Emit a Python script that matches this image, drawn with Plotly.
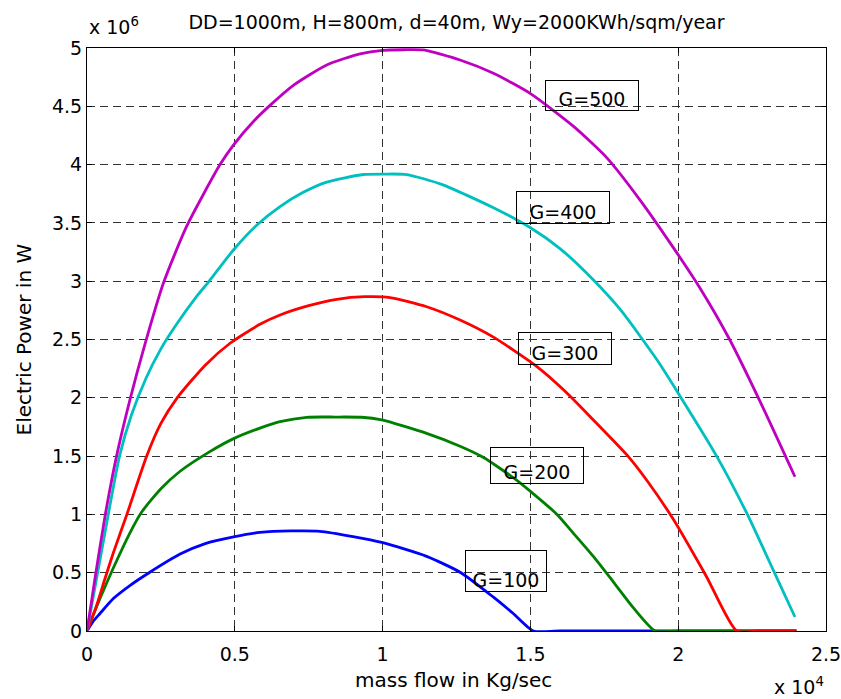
import plotly.graph_objects as go

# mass flow in units of 1e4 kg/s, electric power in units of 1e6 W
x_g100 = [0, 0.02, 0.044, 0.09, 0.145, 0.21, 0.315, 0.40, 0.496, 0.585, 0.69, 0.788, 0.90, 0.997, 1.149, 1.265, 1.375, 1.442, 1.51, 1.60, 2.40]
y_g100 = [0, 0.08, 0.15, 0.28, 0.39, 0.50, 0.66, 0.75, 0.807, 0.845, 0.858, 0.855, 0.81, 0.76, 0.64, 0.50, 0.29, 0.15, 0, 0, 0]

x_g200 = [0, 0.02, 0.044, 0.089, 0.145, 0.185, 0.25, 0.315, 0.41, 0.496, 0.585, 0.653, 0.743, 0.84, 0.929, 0.997, 1.149, 1.262, 1.34, 1.45, 1.59, 1.645, 1.713, 1.781, 1.848, 1.922, 2.0, 2.40]
y_g200 = [0, 0.13, 0.28, 0.54, 0.84, 1.02, 1.22, 1.37, 1.53, 1.65, 1.74, 1.795, 1.833, 1.835, 1.833, 1.81, 1.695, 1.585, 1.49, 1.30, 1.0, 0.84, 0.64, 0.42, 0.2, 0, 0, 0]

x_g300 = [0, 0.03, 0.061, 0.089, 0.135, 0.202, 0.25, 0.305, 0.40, 0.485, 0.585, 0.653, 0.75, 0.845, 0.94, 1.025, 1.149, 1.262, 1.375, 1.521, 1.62, 1.713, 1.83, 1.893, 1.983, 2.095, 2.198, 2.27, 2.40]
y_g300 = [0, 0.2, 0.45, 0.67, 1.0, 1.5, 1.78, 2.0, 2.28, 2.47, 2.63, 2.71, 2.79, 2.845, 2.867, 2.86, 2.781, 2.667, 2.52, 2.27, 2.05, 1.81, 1.5, 1.295, 0.96, 0.47, 0, 0, 0]

x_g400 = [0, 0.018, 0.036, 0.072, 0.11, 0.15, 0.2, 0.25, 0.3, 0.371, 0.41, 0.496, 0.574, 0.653, 0.73, 0.811, 0.935, 1.01, 1.082, 1.2, 1.375, 1.499, 1.60, 1.69, 1.803, 1.927, 2.0, 2.13, 2.232, 2.322, 2.395]
y_g400 = [0, 0.25, 0.5, 1.0, 1.5, 1.85, 2.17, 2.42, 2.62, 2.87, 2.99, 3.27, 3.48, 3.64, 3.76, 3.85, 3.915, 3.919, 3.915, 3.83, 3.63, 3.46, 3.28, 3.07, 2.76, 2.33, 2.04, 1.5, 1.01, 0.52, 0.12]

x_g500 = [0, 0.015, 0.03, 0.062, 0.1, 0.145, 0.195, 0.258, 0.337, 0.45, 0.496, 0.563, 0.62, 0.698, 0.811, 0.924, 1.0, 1.07, 1.138, 1.262, 1.375, 1.499, 1.645, 1.758, 1.871, 1.983, 2.074, 2.174, 2.288, 2.395]
y_g500 = [0, 0.25, 0.5, 1.0, 1.5, 1.98, 2.45, 2.98, 3.47, 4.0, 4.17, 4.37, 4.51, 4.68, 4.855, 4.95, 4.98, 4.985, 4.983, 4.897, 4.783, 4.611, 4.33, 4.06, 3.696, 3.29, 2.94, 2.50, 1.91, 1.323]

series_names = ["G=100", "G=200", "G=300", "G=400", "G=500"]
series_x = [x_g100, x_g200, x_g300, x_g400, x_g500]
series_y = [y_g100, y_g200, y_g300, y_g400, y_g500]
colors = ["#0000FF", "#008000", "#FF0000", "#00BFBF", "#BF00BF"]

title_text = "DD=1000m, H=800m, d=40m, Wy=2000KWh/sqm/year"
x_label = "mass flow in Kg/sec"
y_label = "Electric Power in W"

FONT = "DejaVu Sans"

fig = go.Figure()
for nm, xs, ys, c in zip(series_names, series_x, series_y, colors):
    fig.add_trace(go.Scatter(x=xs, y=ys, mode="lines", name=nm,
                             line=dict(color=c, width=2.8, shape="spline", smoothing=0.6),
                             showlegend=False, hoverinfo="skip"))

# label boxes: (text, x, y, width, height)
label_pos = [
    ("G=500", 1.708, 4.59, 92, 29),
    ("G=400", 1.611, 3.63, 92, 31),
    ("G=300", 1.616, 2.427, 92, 31),
    ("G=200", 1.523, 1.418, 92, 35),
    ("G=100", 1.418, 0.516, 80, 40),
]
annotations = []
for t, ax_, ay_, w, h in label_pos:
    annotations.append(dict(x=ax_, y=ay_, xref="x", yref="y", text=t, showarrow=False,
                            font=dict(family=FONT, size=19, color="black"),
                            bordercolor="black", borderwidth=1, borderpad=0,
                            width=w, height=h, valign="bottom", align="center",
                            xanchor="center", yanchor="middle"))

annotations += [
    dict(x=0, y=1.0377, xref="paper", yref="paper", text="x 10<sup>6</sup>", showarrow=False,
         xanchor="left", yanchor="middle", font=dict(family=FONT, size=19, color="black")),
    dict(x=1.0, y=-0.094, xref="paper", yref="paper", text="x 10<sup>4</sup>", showarrow=False,
         xanchor="right", yanchor="middle", font=dict(family=FONT, size=19, color="black")),
    dict(x=0.496, y=-0.084, xref="paper", yref="paper", text=x_label, showarrow=False,
         xanchor="center", yanchor="middle", font=dict(family=FONT, size=20, color="black")),
    dict(x=-0.0853, y=0.5, xref="paper", yref="paper", text=y_label, showarrow=False,
         textangle=-90, xanchor="center", yanchor="middle",
         font=dict(family=FONT, size=20, color="black")),
]

axis_common = dict(showgrid=True, gridcolor="#333333", gridwidth=1, griddash="8px,5px",
                   showline=True, linecolor="black", linewidth=1, mirror="ticks",
                   ticks="inside", ticklen=5, tickcolor="black", tickwidth=1,
                   zeroline=False, automargin=False, ticklabeloverflow="allow",
                   tickfont=dict(family=FONT, size=19, color="black"))

fig.update_layout(
    width=841, height=699,
    margin=dict(l=87, r=15, t=48, b=68),
    paper_bgcolor="white", plot_bgcolor="white",
    title=dict(text=title_text, x=0.5, xref="paper", y=1 - 22 / 699, yref="container",
               xanchor="center", yanchor="middle",
               font=dict(family=FONT, size=19, color="black")),
    xaxis=dict(range=[0, 2.5], tick0=0, dtick=0.5, ticklabelstandoff=6, **axis_common),
    yaxis=dict(range=[0, 5], tick0=0, dtick=0.5, ticklabelstandoff=0, **axis_common),
    annotations=annotations,
)

fig.write_html("out.html", config={"displayModeBar": False},
               post_script="document.body.style.margin='0px';")
